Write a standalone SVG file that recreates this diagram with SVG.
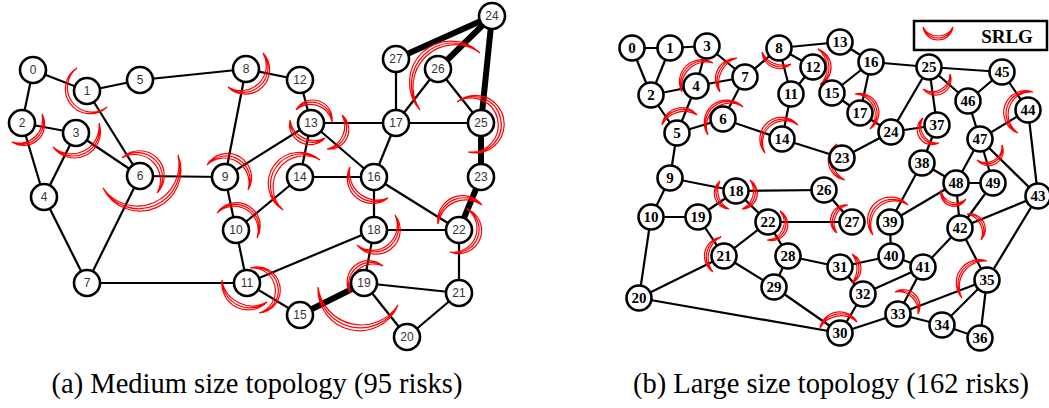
<svg xmlns="http://www.w3.org/2000/svg" width="1049" height="408" viewBox="0 0 1049 408">
<style>
.e{stroke:#000;stroke-width:2.2;fill:none}
.t{stroke:#000;stroke-width:6;fill:none}
.n{fill:#fff;stroke:#000;stroke-width:2.6}
.lm{font-family:"Liberation Sans",Arial,sans-serif;font-size:12px;fill:#333;text-anchor:middle;dominant-baseline:central}
.ll{font-family:"Liberation Serif","Times New Roman",serif;font-size:15px;font-weight:bold;fill:#000;text-anchor:middle;dominant-baseline:central}
.s{fill:none;stroke:#f00;stroke-width:1.2}
.cap{font-family:"Liberation Serif","Times New Roman",serif;font-size:28.5px;fill:#000;text-anchor:middle}
</style>
<rect width="1049" height="408" fill="#fff"/>
<g id="connectors">
<g id="medium-edges">
<line class="e" x1="33" y1="70" x2="87" y2="91"/>
<line class="e" x1="33" y1="70" x2="22" y2="123"/>
<line class="e" x1="87" y1="91" x2="140" y2="80"/>
<line class="e" x1="140" y1="80" x2="246" y2="69"/>
<line class="e" x1="87" y1="91" x2="140" y2="176"/>
<line class="e" x1="22" y1="123" x2="76" y2="133"/>
<line class="e" x1="22" y1="123" x2="44" y2="197"/>
<line class="e" x1="76" y1="133" x2="44" y2="197"/>
<line class="e" x1="76" y1="133" x2="140" y2="176"/>
<line class="e" x1="140" y1="176" x2="225" y2="177"/>
<line class="e" x1="140" y1="176" x2="87" y2="283"/>
<line class="e" x1="44" y1="197" x2="87" y2="283"/>
<line class="e" x1="246" y1="69" x2="300" y2="80"/>
<line class="e" x1="246" y1="69" x2="225" y2="177"/>
<line class="e" x1="225" y1="177" x2="311" y2="123"/>
<line class="e" x1="225" y1="177" x2="236" y2="230"/>
<line class="e" x1="236" y1="230" x2="300" y2="177"/>
<line class="e" x1="236" y1="230" x2="247" y2="283"/>
<line class="e" x1="87" y1="283" x2="247" y2="283"/>
<line class="e" x1="300" y1="80" x2="311" y2="123"/>
<line class="e" x1="311" y1="123" x2="396" y2="123"/>
<line class="e" x1="311" y1="123" x2="300" y2="177"/>
<line class="e" x1="311" y1="123" x2="374" y2="177"/>
<line class="e" x1="300" y1="177" x2="374" y2="177"/>
<line class="e" x1="396" y1="123" x2="374" y2="177"/>
<line class="e" x1="396" y1="123" x2="396" y2="59"/>
<line class="e" x1="396" y1="123" x2="438" y2="69"/>
<line class="e" x1="396" y1="123" x2="481" y2="123"/>
<line class="e" x1="438" y1="69" x2="481" y2="123"/>
<line class="e" x1="374" y1="177" x2="374" y2="230"/>
<line class="e" x1="374" y1="177" x2="459" y2="230"/>
<line class="e" x1="374" y1="230" x2="459" y2="230"/>
<line class="e" x1="374" y1="230" x2="364" y2="283"/>
<line class="e" x1="374" y1="230" x2="247" y2="283"/>
<line class="e" x1="247" y1="283" x2="300" y2="315"/>
<line class="e" x1="364" y1="283" x2="459" y2="293"/>
<line class="e" x1="364" y1="283" x2="407" y2="337"/>
<line class="e" x1="407" y1="337" x2="459" y2="293"/>
<line class="e" x1="459" y1="293" x2="459" y2="230"/>
<line class="t" x1="492" y1="16" x2="396" y2="59"/>
<line class="t" x1="492" y1="16" x2="438" y2="69"/>
<line class="t" x1="492" y1="16" x2="481" y2="123"/>
<line class="t" x1="481" y1="123" x2="481" y2="177"/>
<line class="t" x1="481" y1="177" x2="459" y2="230"/>
<line class="t" x1="300" y1="315" x2="364" y2="283"/>
</g>
<g id="large-edges">
<line class="e" x1="632" y1="48" x2="670" y2="48"/>
<line class="e" x1="670" y1="48" x2="707" y2="46"/>
<line class="e" x1="632" y1="48" x2="651" y2="95"/>
<line class="e" x1="670" y1="48" x2="651" y2="95"/>
<line class="e" x1="651" y1="95" x2="696" y2="86"/>
<line class="e" x1="651" y1="95" x2="677" y2="133"/>
<line class="e" x1="707" y1="46" x2="696" y2="86"/>
<line class="e" x1="707" y1="46" x2="745" y2="77"/>
<line class="e" x1="696" y1="86" x2="677" y2="133"/>
<line class="e" x1="696" y1="86" x2="745" y2="77"/>
<line class="e" x1="677" y1="133" x2="723" y2="119"/>
<line class="e" x1="723" y1="119" x2="745" y2="77"/>
<line class="e" x1="745" y1="77" x2="779" y2="48"/>
<line class="e" x1="677" y1="133" x2="670" y2="178"/>
<line class="e" x1="723" y1="119" x2="782" y2="139"/>
<line class="e" x1="779" y1="48" x2="791" y2="94"/>
<line class="e" x1="779" y1="48" x2="813" y2="67"/>
<line class="e" x1="779" y1="48" x2="840" y2="42"/>
<line class="e" x1="791" y1="94" x2="813" y2="67"/>
<line class="e" x1="791" y1="94" x2="782" y2="139"/>
<line class="e" x1="840" y1="42" x2="871" y2="62"/>
<line class="e" x1="832" y1="93" x2="871" y2="62"/>
<line class="e" x1="832" y1="93" x2="860" y2="113"/>
<line class="e" x1="871" y1="62" x2="860" y2="113"/>
<line class="e" x1="871" y1="62" x2="929" y2="67"/>
<line class="e" x1="860" y1="113" x2="891" y2="132"/>
<line class="e" x1="891" y1="132" x2="929" y2="67"/>
<line class="e" x1="891" y1="132" x2="937" y2="125"/>
<line class="e" x1="842" y1="158" x2="891" y2="132"/>
<line class="e" x1="782" y1="139" x2="842" y2="158"/>
<line class="e" x1="929" y1="67" x2="1002" y2="72"/>
<line class="e" x1="929" y1="67" x2="968" y2="101"/>
<line class="e" x1="929" y1="67" x2="937" y2="125"/>
<line class="e" x1="1002" y1="72" x2="968" y2="101"/>
<line class="e" x1="1002" y1="72" x2="1028" y2="110"/>
<line class="e" x1="968" y1="101" x2="980" y2="139"/>
<line class="e" x1="980" y1="139" x2="1028" y2="110"/>
<line class="e" x1="980" y1="139" x2="956" y2="183"/>
<line class="e" x1="980" y1="139" x2="993" y2="183"/>
<line class="e" x1="980" y1="139" x2="1038" y2="196"/>
<line class="e" x1="1028" y1="110" x2="1038" y2="196"/>
<line class="e" x1="937" y1="125" x2="922" y2="163"/>
<line class="e" x1="922" y1="163" x2="956" y2="183"/>
<line class="e" x1="922" y1="163" x2="890" y2="222"/>
<line class="e" x1="890" y1="222" x2="956" y2="183"/>
<line class="e" x1="956" y1="183" x2="993" y2="183"/>
<line class="e" x1="956" y1="183" x2="960" y2="228"/>
<line class="e" x1="993" y1="183" x2="960" y2="228"/>
<line class="e" x1="960" y1="228" x2="1038" y2="196"/>
<line class="e" x1="960" y1="228" x2="923" y2="267"/>
<line class="e" x1="960" y1="228" x2="987" y2="280"/>
<line class="e" x1="1038" y1="196" x2="987" y2="280"/>
<line class="e" x1="890" y1="222" x2="891" y2="256"/>
<line class="e" x1="891" y1="256" x2="840" y2="267"/>
<line class="e" x1="891" y1="256" x2="923" y2="267"/>
<line class="e" x1="923" y1="267" x2="863" y2="294"/>
<line class="e" x1="923" y1="267" x2="898" y2="314"/>
<line class="e" x1="840" y1="267" x2="863" y2="294"/>
<line class="e" x1="840" y1="267" x2="788" y2="256"/>
<line class="e" x1="863" y1="294" x2="840" y2="333"/>
<line class="e" x1="840" y1="333" x2="898" y2="314"/>
<line class="e" x1="898" y1="314" x2="942" y2="325"/>
<line class="e" x1="898" y1="314" x2="987" y2="280"/>
<line class="e" x1="942" y1="325" x2="987" y2="280"/>
<line class="e" x1="942" y1="325" x2="980" y2="338"/>
<line class="e" x1="987" y1="280" x2="980" y2="338"/>
<line class="e" x1="774" y1="287" x2="840" y2="333"/>
<line class="e" x1="639" y1="298" x2="840" y2="333"/>
<line class="e" x1="788" y1="256" x2="774" y2="287"/>
<line class="e" x1="724" y1="256" x2="774" y2="287"/>
<line class="e" x1="724" y1="256" x2="768" y2="222"/>
<line class="e" x1="639" y1="298" x2="724" y2="256"/>
<line class="e" x1="698" y1="217" x2="724" y2="256"/>
<line class="e" x1="651" y1="217" x2="698" y2="217"/>
<line class="e" x1="670" y1="178" x2="651" y2="217"/>
<line class="e" x1="651" y1="217" x2="639" y2="298"/>
<line class="e" x1="736" y1="191" x2="768" y2="222"/>
<line class="e" x1="736" y1="191" x2="698" y2="217"/>
<line class="e" x1="670" y1="178" x2="736" y2="191"/>
<line class="e" x1="768" y1="222" x2="788" y2="256"/>
<line class="e" x1="768" y1="222" x2="852" y2="222"/>
<line class="e" x1="736" y1="191" x2="824" y2="190"/>
<line class="e" x1="824" y1="190" x2="852" y2="222"/>
</g>
</g>
<g id="srlg-medium" class="s">
<path d="M77 68A24.72 24.72 0 1 0 107 107M77 68A24.52 24.52 0 1 0 107 107M77 68A24.55 24.55 0 0 0 107 107"/>
<path d="M42 114A21.13 21.13 0 0 1 12 142M42 114A22 22 0 0 1 12 142M42 114A23.5 23.5 0 0 1 12 142"/>
<path d="M99 123A26.2 26.2 0 0 1 53 147M99 123A26.74 26.74 0 0 1 53 147M99 123A27.8 27.8 0 0 1 53 147"/>
<path d="M122 158A24.7 24.7 0 0 1 157 193M122 158A24.9 24.9 0 0 1 157 193M122 158A25.6 25.6 0 0 1 157 193"/>
<path d="M178 155A41 41 0 0 1 103 188M178 155A41.2 41.2 0 0 1 103 188M178 155A41.7 41.7 0 0 1 103 188"/>
<path d="M207 165A24 24 0 0 1 248 190M207 165A24.2 24.2 0 0 1 248 190M207 165A24.8 24.8 0 0 1 248 190"/>
<path d="M263 53A24.4 24.4 0 0 1 228 87M263 53A24.6 24.6 0 0 1 228 87M263 53A25.2 25.2 0 0 1 228 87"/>
<path d="M296 110A19.3 19.3 0 0 1 332 122M296 110A20.1 20.1 0 0 1 332 122M296 110A21.9 21.9 0 0 1 332 122"/>
<path d="M290 120A20.4 20.4 0 0 0 325 138M290 120A21.8 21.8 0 0 0 325 138M290 120A24.4 24.4 0 0 0 325 138"/>
<path d="M342 115A19.4 19.4 0 0 1 327 149M342 115A20.8 20.8 0 0 1 327 149M342 115A23.7 23.7 0 0 1 327 149"/>
<path d="M283 210A31.2 31.2 0 1 1 320 160M283 210A31.1 31.1 0 0 1 320 160M283 210A31.3 31.3 0 0 1 320 160"/>
<path d="M217 213A23.6 23.6 0 0 1 257 238M217 213A23.8 23.8 0 0 1 257 238M217 213A24.3 24.3 0 0 1 257 238"/>
<path d="M350 167A25.1 25.1 0 0 0 388 198M350 167A26.1 26.1 0 0 0 388 198M350 167A27.9 27.9 0 0 0 388 198"/>
<path d="M395 215A24.2 24.2 0 0 1 357 245M395 215A24.4 24.4 0 0 1 357 245M395 215A24.9 24.9 0 0 1 357 245"/>
<path d="M438 224A24.8 24.8 0 0 1 482 205M438 224A26 26 0 0 1 482 205M438 224A28.1 28.1 0 0 1 482 205"/>
<path d="M467 209A23.1 23.1 0 0 1 450 252M467 209A23.3 23.3 0 0 1 450 252M467 209A23.8 23.8 0 0 1 450 252"/>
<path d="M457 102A28.8 28.8 0 1 1 468 152M457 102A27.9 27.9 0 1 1 468 152M457 102A27.1 27.1 0 1 1 468 152"/>
<path d="M420 110A41.4 41.4 0 0 1 480 53M420 110A41.6 41.6 0 0 1 480 53M420 110A42 42 0 0 1 480 53"/>
<path d="M222 280A26.4 26.4 0 0 0 267 302M222 280A27.9 27.9 0 0 0 267 302M222 280A30.5 30.5 0 0 0 267 302"/>
<path d="M250 268A23.1 23.1 0 1 1 259 313M250 268A22.96 22.96 0 1 1 259 313M250 268A23.05 23.05 0 0 1 259 313"/>
<path d="M350 293A21.6 21.6 0 0 1 383 266M350 293A22.4 22.4 0 0 1 383 266M350 293A24 24 0 0 1 383 266"/>
<path d="M318 287A41.6 41.6 0 0 0 398 305M318 287A42.4 42.4 0 0 0 398 305M318 287A43.7 43.7 0 0 0 398 305"/>
</g>
<g id="srlg-large" class="s">
<path d="M682 92A22 22 0 0 1 713 63M682 92A23 23 0 0 1 713 63M682 92A24.7 24.7 0 0 1 713 63"/>
<path d="M737 58A21 21 0 0 0 720 92M737 58A23.05 23.05 0 0 0 720 92M737 58A26.6 26.6 0 0 0 720 92"/>
<path d="M662 125A19.8 19.8 0 0 1 697 115M662 125A21.6 21.6 0 0 1 697 115M662 125A24.7 24.7 0 0 1 697 115"/>
<path d="M708 135A22.5 22.5 0 0 1 743 107M708 135A22.8 22.8 0 0 1 743 107M708 135A23.5 23.5 0 0 1 743 107"/>
<path d="M762 52A17.3 17.3 0 0 0 791 64M762 52A19.4 19.4 0 0 0 791 64M762 52A23.5 23.5 0 0 0 791 64"/>
<path d="M818 49A19.5 19.5 0 0 1 820 85M818 49A21.2 21.2 0 0 1 820 85M818 49A24.25 24.25 0 0 1 820 85"/>
<path d="M765 153A21.6 21.6 0 0 1 798 125M765 153A21.8 21.8 0 0 1 798 125M765 153A22.2 22.2 0 0 1 798 125"/>
<path d="M855 94A19.3 19.3 0 0 1 870 129M855 94A19.9 19.9 0 0 1 870 129M855 94A21 21 0 0 1 870 129"/>
<path d="M837 144A19.8 19.8 0 0 0 845 180M837 144A21.4 21.4 0 0 0 845 180M837 144A24.2 24.2 0 0 0 845 180"/>
<path d="M950 74A15.6 15.6 0 0 1 923 89M950 74A16.3 16.3 0 0 1 923 89M950 74A17.7 17.7 0 0 1 923 89"/>
<path d="M923 118A14.9 14.9 0 0 0 939 143M923 118A15.5 15.5 0 0 0 939 143M923 118A16.7 16.7 0 0 0 939 143"/>
<path d="M1033 92A21.8 21.8 0 0 0 1018 133M1033 92A22 22 0 0 0 1018 133M1033 92A22.5 22.5 0 0 0 1018 133"/>
<path d="M1002 145A14.7 14.7 0 0 1 977 160M1002 145A15.2 15.2 0 0 1 977 160M1002 145A16.3 16.3 0 0 1 977 160"/>
<path d="M941 190A13.4 13.4 0 0 0 966 199M941 190A13.85 13.85 0 0 0 966 199M941 190A15.1 15.1 0 0 0 966 199"/>
<path d="M967 214A15.45 15.45 0 0 1 981 240M967 214A16.7 16.7 0 0 1 981 240M967 214A19.1 19.1 0 0 1 981 240"/>
<path d="M873 235A23.05 23.05 0 0 1 908 205M873 235A23.3 23.3 0 0 1 908 205M873 235A23.9 23.9 0 0 1 908 205"/>
<path d="M848 205A15.5 15.5 0 0 0 837 233M848 205A16.6 16.6 0 0 0 837 233M848 205A18.7 18.7 0 0 0 837 233"/>
<path d="M852 254A16.2 16.2 0 0 1 852 283M852 254A18.5 18.5 0 0 1 852 283M852 254A23.5 23.5 0 0 1 852 283"/>
<path d="M820 328A20 20 0 0 1 857 322M820 328A21.4 21.4 0 0 1 857 322M820 328A23.9 23.9 0 0 1 857 322"/>
<path d="M895 292A16.5 16.5 0 0 1 918 314M895 292A17.65 17.65 0 0 1 918 314M895 292A19.8 19.8 0 0 1 918 314"/>
<path d="M962 298A23.1 23.1 0 0 1 987 261M962 298A24.1 24.1 0 0 1 987 261M962 298A25.6 25.6 0 0 1 987 261"/>
<path d="M720 181A15.8 15.8 0 0 0 729 209M720 181A17.5 17.5 0 0 0 729 209M720 181A21 21 0 0 0 729 209"/>
<path d="M750 180A15.7 15.7 0 0 1 742 209M750 180A17 17 0 0 1 742 209M750 180A19.6 19.6 0 0 1 742 209"/>
<path d="M780 211A16 16 0 0 1 767 240M780 211A16.5 16.5 0 0 1 767 240M780 211A17.65 17.65 0 0 1 767 240"/>
<path d="M721 237A19.2 19.2 0 0 0 713 272M721 237A20.7 20.7 0 0 0 713 272M721 237A23.3 23.3 0 0 0 713 272"/>
</g>
<g id="medium-nodes">
<g id="m0"><circle class="n" cx="33" cy="70" r="13"/><text class="lm" x="33" y="70">0</text></g>
<g id="m1"><circle class="n" cx="87" cy="91" r="13"/><text class="lm" x="87" y="91">1</text></g>
<g id="m2"><circle class="n" cx="22" cy="123" r="13"/><text class="lm" x="22" y="123">2</text></g>
<g id="m3"><circle class="n" cx="76" cy="133" r="13"/><text class="lm" x="76" y="133">3</text></g>
<g id="m4"><circle class="n" cx="44" cy="197" r="13"/><text class="lm" x="44" y="197">4</text></g>
<g id="m5"><circle class="n" cx="140" cy="80" r="13"/><text class="lm" x="140" y="80">5</text></g>
<g id="m6"><circle class="n" cx="140" cy="176" r="13"/><text class="lm" x="140" y="176">6</text></g>
<g id="m7"><circle class="n" cx="87" cy="283" r="13"/><text class="lm" x="87" y="283">7</text></g>
<g id="m8"><circle class="n" cx="246" cy="69" r="13"/><text class="lm" x="246" y="69">8</text></g>
<g id="m9"><circle class="n" cx="225" cy="177" r="13"/><text class="lm" x="225" y="177">9</text></g>
<g id="m10"><circle class="n" cx="236" cy="230" r="13"/><text class="lm" x="236" y="230">10</text></g>
<g id="m11"><circle class="n" cx="247" cy="283" r="13"/><text class="lm" x="247" y="283">11</text></g>
<g id="m12"><circle class="n" cx="300" cy="80" r="13"/><text class="lm" x="300" y="80">12</text></g>
<g id="m13"><circle class="n" cx="311" cy="123" r="13"/><text class="lm" x="311" y="123">13</text></g>
<g id="m14"><circle class="n" cx="300" cy="177" r="13"/><text class="lm" x="300" y="177">14</text></g>
<g id="m15"><circle class="n" cx="300" cy="315" r="13"/><text class="lm" x="300" y="315">15</text></g>
<g id="m16"><circle class="n" cx="374" cy="177" r="13"/><text class="lm" x="374" y="177">16</text></g>
<g id="m17"><circle class="n" cx="396" cy="123" r="13"/><text class="lm" x="396" y="123">17</text></g>
<g id="m18"><circle class="n" cx="374" cy="230" r="13"/><text class="lm" x="374" y="230">18</text></g>
<g id="m19"><circle class="n" cx="364" cy="283" r="13"/><text class="lm" x="364" y="283">19</text></g>
<g id="m20"><circle class="n" cx="407" cy="337" r="13"/><text class="lm" x="407" y="337">20</text></g>
<g id="m21"><circle class="n" cx="459" cy="293" r="13"/><text class="lm" x="459" y="293">21</text></g>
<g id="m22"><circle class="n" cx="459" cy="230" r="13"/><text class="lm" x="459" y="230">22</text></g>
<g id="m23"><circle class="n" cx="481" cy="177" r="13"/><text class="lm" x="481" y="177">23</text></g>
<g id="m24"><circle class="n" cx="492" cy="16" r="13"/><text class="lm" x="492" y="16">24</text></g>
<g id="m25"><circle class="n" cx="481" cy="123" r="13"/><text class="lm" x="481" y="123">25</text></g>
<g id="m26"><circle class="n" cx="438" cy="69" r="13"/><text class="lm" x="438" y="69">26</text></g>
<g id="m27"><circle class="n" cx="396" cy="59" r="13"/><text class="lm" x="396" y="59">27</text></g>
</g>
<g id="large-nodes">
<g id="l0"><circle class="n" cx="632" cy="48" r="12.5"/><text class="ll" x="632" y="48">0</text></g>
<g id="l1"><circle class="n" cx="670" cy="48" r="12.5"/><text class="ll" x="670" y="48">1</text></g>
<g id="l2"><circle class="n" cx="651" cy="95" r="12.5"/><text class="ll" x="651" y="95">2</text></g>
<g id="l3"><circle class="n" cx="707" cy="46" r="12.5"/><text class="ll" x="707" y="46">3</text></g>
<g id="l4"><circle class="n" cx="696" cy="86" r="12.5"/><text class="ll" x="696" y="86">4</text></g>
<g id="l5"><circle class="n" cx="677" cy="133" r="12.5"/><text class="ll" x="677" y="133">5</text></g>
<g id="l6"><circle class="n" cx="723" cy="119" r="12.5"/><text class="ll" x="723" y="119">6</text></g>
<g id="l7"><circle class="n" cx="745" cy="77" r="12.5"/><text class="ll" x="745" y="77">7</text></g>
<g id="l8"><circle class="n" cx="779" cy="48" r="12.5"/><text class="ll" x="779" y="48">8</text></g>
<g id="l9"><circle class="n" cx="670" cy="178" r="12.5"/><text class="ll" x="670" y="178">9</text></g>
<g id="l10"><circle class="n" cx="651" cy="217" r="12.5"/><text class="ll" x="651" y="217">10</text></g>
<g id="l11"><circle class="n" cx="791" cy="94" r="12.5"/><text class="ll" x="791" y="94">11</text></g>
<g id="l12"><circle class="n" cx="813" cy="67" r="12.5"/><text class="ll" x="813" y="67">12</text></g>
<g id="l13"><circle class="n" cx="840" cy="42" r="12.5"/><text class="ll" x="840" y="42">13</text></g>
<g id="l14"><circle class="n" cx="782" cy="139" r="12.5"/><text class="ll" x="782" y="139">14</text></g>
<g id="l15"><circle class="n" cx="832" cy="93" r="12.5"/><text class="ll" x="832" y="93">15</text></g>
<g id="l16"><circle class="n" cx="871" cy="62" r="12.5"/><text class="ll" x="871" y="62">16</text></g>
<g id="l17"><circle class="n" cx="860" cy="113" r="12.5"/><text class="ll" x="860" y="113">17</text></g>
<g id="l18"><circle class="n" cx="736" cy="191" r="12.5"/><text class="ll" x="736" y="191">18</text></g>
<g id="l19"><circle class="n" cx="698" cy="217" r="12.5"/><text class="ll" x="698" y="217">19</text></g>
<g id="l20"><circle class="n" cx="639" cy="298" r="12.5"/><text class="ll" x="639" y="298">20</text></g>
<g id="l21"><circle class="n" cx="724" cy="256" r="12.5"/><text class="ll" x="724" y="256">21</text></g>
<g id="l22"><circle class="n" cx="768" cy="222" r="12.5"/><text class="ll" x="768" y="222">22</text></g>
<g id="l23"><circle class="n" cx="842" cy="158" r="12.5"/><text class="ll" x="842" y="158">23</text></g>
<g id="l24"><circle class="n" cx="891" cy="132" r="12.5"/><text class="ll" x="891" y="132">24</text></g>
<g id="l25"><circle class="n" cx="929" cy="67" r="12.5"/><text class="ll" x="929" y="67">25</text></g>
<g id="l26"><circle class="n" cx="824" cy="190" r="12.5"/><text class="ll" x="824" y="190">26</text></g>
<g id="l27"><circle class="n" cx="852" cy="222" r="12.5"/><text class="ll" x="852" y="222">27</text></g>
<g id="l28"><circle class="n" cx="788" cy="256" r="12.5"/><text class="ll" x="788" y="256">28</text></g>
<g id="l29"><circle class="n" cx="774" cy="287" r="12.5"/><text class="ll" x="774" y="287">29</text></g>
<g id="l30"><circle class="n" cx="840" cy="333" r="12.5"/><text class="ll" x="840" y="333">30</text></g>
<g id="l31"><circle class="n" cx="840" cy="267" r="12.5"/><text class="ll" x="840" y="267">31</text></g>
<g id="l32"><circle class="n" cx="863" cy="294" r="12.5"/><text class="ll" x="863" y="294">32</text></g>
<g id="l33"><circle class="n" cx="898" cy="314" r="12.5"/><text class="ll" x="898" y="314">33</text></g>
<g id="l34"><circle class="n" cx="942" cy="325" r="12.5"/><text class="ll" x="942" y="325">34</text></g>
<g id="l35"><circle class="n" cx="987" cy="280" r="12.5"/><text class="ll" x="987" y="280">35</text></g>
<g id="l36"><circle class="n" cx="980" cy="338" r="12.5"/><text class="ll" x="980" y="338">36</text></g>
<g id="l37"><circle class="n" cx="937" cy="125" r="12.5"/><text class="ll" x="937" y="125">37</text></g>
<g id="l38"><circle class="n" cx="922" cy="163" r="12.5"/><text class="ll" x="922" y="163">38</text></g>
<g id="l39"><circle class="n" cx="890" cy="222" r="12.5"/><text class="ll" x="890" y="222">39</text></g>
<g id="l40"><circle class="n" cx="891" cy="256" r="12.5"/><text class="ll" x="891" y="256">40</text></g>
<g id="l41"><circle class="n" cx="923" cy="267" r="12.5"/><text class="ll" x="923" y="267">41</text></g>
<g id="l42"><circle class="n" cx="960" cy="228" r="12.5"/><text class="ll" x="960" y="228">42</text></g>
<g id="l43"><circle class="n" cx="1038" cy="196" r="12.5"/><text class="ll" x="1038" y="196">43</text></g>
<g id="l44"><circle class="n" cx="1028" cy="110" r="12.5"/><text class="ll" x="1028" y="110">44</text></g>
<g id="l45"><circle class="n" cx="1002" cy="72" r="12.5"/><text class="ll" x="1002" y="72">45</text></g>
<g id="l46"><circle class="n" cx="968" cy="101" r="12.5"/><text class="ll" x="968" y="101">46</text></g>
<g id="l47"><circle class="n" cx="980" cy="139" r="12.5"/><text class="ll" x="980" y="139">47</text></g>
<g id="l48"><circle class="n" cx="956" cy="183" r="12.5"/><text class="ll" x="956" y="183">48</text></g>
<g id="l49"><circle class="n" cx="993" cy="183" r="12.5"/><text class="ll" x="993" y="183">49</text></g>
</g>
<g id="legend">
<rect x="914" y="21" width="133" height="29" fill="#fff" stroke="#000" stroke-width="2.5"/>
<path class="s" d="M923 27A15.15 15.15 0 0 0 953 27M923 27A15.7 15.7 0 0 0 953 27M923 27A17 17 0 0 0 953 27"/>
<text x="1007" y="43" font-family="Liberation Serif, Times New Roman, serif" font-size="19" font-weight="bold" text-anchor="middle">SRLG</text>
</g>
<g id="captions">
<text class="cap" x="257" y="393">(a) Medium size topology (95 risks)</text>
<text class="cap" x="831" y="393">(b) Large size topology (162 risks)</text>
</g>
</svg>
